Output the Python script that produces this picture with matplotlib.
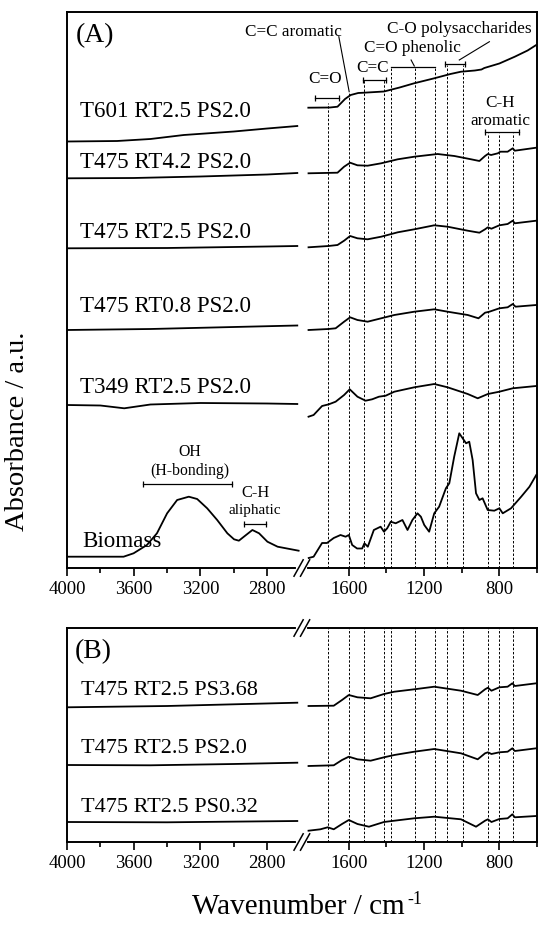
import numpy as np
import matplotlib.pyplot as plt

plt.rcParams['font.family'] = 'Liberation Serif'

# ---- data (wavenumber in cm-1, absorbance in a.u.) ----
# panel A
t601_lw = [4000, 3700, 3500, 3300, 3000, 2800, 2620]
t601_la = [426.5, 427, 429, 433, 436.5, 439.5, 442]
t601_rw = [1815, 1700, 1660, 1620, 1590, 1550, 1519, 1413, 1330, 1253, 1146,
           1060, 1004, 930, 895, 880, 800, 718, 650, 604]
t601_ra = [460.3, 460.5, 461.3, 469, 473, 475, 475.3, 476.5, 480.5, 484.7, 489.7,
           494, 496.3, 497.5, 498.5, 500, 504.5, 511.3, 517.5, 523]

t475rt42_lw = [4000, 3600, 3200, 2800, 2620]
t475rt42_la = [389.7, 390, 391.5, 393.5, 395]
t475rt42_rw = [1814, 1660, 1625, 1593, 1554, 1500, 1428, 1340, 1252, 1128, 1039,
               950, 906, 876, 861, 844, 808, 795, 756, 729, 718, 604]
t475rt42_ra = [394.7, 395.3, 401.3, 405.3, 402.7, 402.3, 404.7, 408.7, 411.3, 414, 412,
               408.7, 407, 412, 414, 413, 414.7, 416.3, 416.3, 419.7, 417.3, 420.3]

t475rt25_lw = [4000, 3400, 2800, 2620]
t475rt25_la = [319.7, 320, 321.5, 322]
t475rt25_rw = [1814, 1708, 1660, 1625, 1593, 1554, 1500, 1428, 1340, 1252, 1146,
               1075, 968, 906, 876, 861, 842, 800, 756, 729, 718, 604]
t475rt25_ra = [320.7, 322, 323, 327.3, 332, 329.7, 328.7, 331.3, 335.7, 338.7, 342.7,
               341.3, 337.3, 335.3, 338.7, 340.7, 339.3, 342.7, 344, 347.3, 344.7, 347.3]

t475rt08_lw = [4000, 3500, 3000, 2620]
t475rt08_la = [238, 239, 241, 242.5]
t475rt08_rw = [1814, 1708, 1670, 1625, 1593, 1554, 1500, 1428, 1358, 1252, 1146,
               1075, 968, 911, 876, 853, 800, 756, 729, 714, 604]
t475rt08_ra = [238, 239, 239.7, 246.3, 250.7, 248, 246.3, 249.7, 253, 256.3, 258.7,
               256.3, 253, 249.7, 255.3, 256.3, 259.7, 260.7, 264, 261.3, 263]

t349_lw = [4000, 3800, 3657, 3500, 3200, 2800, 2620]
t349_la = [163, 162.5, 159.7, 163.5, 165, 164.5, 164]
t349_rw = [1814, 1787, 1742, 1706, 1670, 1625, 1595, 1554, 1511, 1476, 1440, 1404,
           1358, 1252, 1146, 1075, 968, 915, 861, 800, 729, 604]
t349_ra = [151.3, 153, 162, 163.7, 166.3, 173, 178.7, 171.3, 167.3, 168.7, 171.3, 172.3,
           176.3, 180.7, 184, 180.7, 174, 169.7, 174, 176.3, 179.7, 182]

bio_lw = [4000, 3661, 3601, 3521, 3461, 3400, 3340, 3270, 3220, 3160, 3100, 3039,
          2999, 2970, 2940, 2889, 2849, 2799, 2738, 2612]
bio_la = [11.3, 11.3, 14.7, 23, 34.7, 54.7, 68, 71.3, 69, 59.7, 48, 34.7,
          28.7, 27.3, 31.3, 38, 34.7, 26.3, 21.3, 17.3]
bio_rw = [1813, 1787, 1742, 1716, 1680, 1644, 1617, 1600, 1582, 1556, 1529, 1517,
          1499, 1467, 1431, 1413, 1396, 1377, 1351, 1315, 1288, 1262, 1235, 1217,
          1199, 1173, 1146, 1120, 1084, 1066, 1040, 1013, 995, 977, 960, 942, 924,
          906, 889, 862, 827, 800, 782, 738, 684, 640, 604]
bio_ra = [10, 11.3, 25, 25, 30, 33, 31.3, 33, 23, 19.5, 19.5, 24.7,
          21.3, 38, 41.3, 36.3, 39.7, 46.3, 44.7, 48, 38, 48, 54.7, 51.3,
          43, 36.3, 54.7, 61.3, 79.7, 84.7, 111.3, 134.7, 129.7, 124.7, 126.3, 108, 74.7,
          68, 69.7, 58, 57.3, 59.7, 54.7, 59.7, 71.3, 81.3, 93]

# panel B
ps368_lw = [4000, 3400, 2620]
ps368_la = [134.7, 136, 139.3]
ps368_rw = [1814, 1680, 1636, 1600, 1554, 1484, 1413, 1358, 1252, 1146, 1004,
            915, 876, 861, 842, 800, 756, 731, 718, 604]
ps368_ra = [136, 136.3, 142, 147, 144.7, 143.7, 148, 150.3, 152.7, 155.3, 151.3,
            147, 152.7, 154.3, 151.3, 154.7, 155.3, 158.7, 156, 158.7]

ps20_lw = [4000, 3500, 3000, 2620]
ps20_la = [77, 76.7, 78, 79.3]
ps20_rw = [1814, 1680, 1636, 1600, 1554, 1484, 1413, 1358, 1252, 1146, 1004,
           915, 876, 861, 842, 800, 756, 731, 718, 604]
ps20_ra = [76, 76.7, 82, 85.3, 82.7, 81.3, 84.7, 87, 90.3, 93, 88.7,
           82.7, 88.7, 89.7, 88, 89.7, 90.3, 93.7, 91, 93.7]

ps032_lw = [4000, 3400, 2620]
ps032_la = [20, 19.7, 21]
ps032_rw = [1814, 1751, 1712, 1680, 1636, 1600, 1554, 1493, 1413, 1358, 1252, 1146,
            1004, 924, 876, 861, 842, 800, 756, 731, 718, 604]
ps032_ra = [11.3, 12.7, 14.7, 12.7, 18, 22, 18, 15.3, 20, 21.3, 23.7, 25.3,
            22.7, 15.3, 21.3, 22.7, 20, 23, 23.7, 27.7, 24.7, 26]

labels_a = ['T601 RT2.5 PS2.0', 'T475 RT4.2 PS2.0', 'T475 RT2.5 PS2.0',
            'T475 RT0.8 PS2.0', 'T349 RT2.5 PS2.0', 'Biomass']
labels_b = ['T475 RT2.5 PS3.68', 'T475 RT2.5 PS2.0', 'T475 RT2.5 PS0.32']

# band positions (dashed guide lines)
band_w = [1710, 1600, 1520, 1415, 1375, 1250, 1140, 1080, 995, 862, 800, 730]
band_top_a = [465, 476, 488, 488, 501, 501, 501, 503, 503, 435, 435, 435]

major_ticks = [4000, 3600, 3200, 2800, 1600, 1200, 800]
minor_ticks = [3800, 3400, 3000, 1400, 1000, 600]

# ---- broken wavenumber axis: 4000-2600 | 1840-600 ----
seg_w = [600, 1840, 2600, 4000]
seg_u = [0, 232.5, 235.5, 468.25]


def fwd(w):
    return np.interp(w, seg_w, seg_u)


def inv(u):
    return np.interp(u, seg_u, seg_w)


def setup_axis(ax, ymax):
    ax.set_xscale('function', functions=(fwd, inv))
    ax.set_xlim(4000, 600)
    ax.set_ylim(0, ymax)
    ax.set_yticks([])
    ax.set_xticks(major_ticks, labels=[str(t) for t in major_ticks])
    ax.set_xticks(minor_ticks, minor=True)
    ax.tick_params(axis='x', which='major', direction='out', length=6,
                   width=1.2, labelsize=13.5, pad=3)
    ax.tick_params(axis='x', which='minor', direction='out', length=3.5, width=1.2)
    for s in ax.spines.values():
        s.set_linewidth(1.4)


def draw_break(ax, h_px, y0):
    dy = 8.2 / h_px
    for x0 in (0.483, 0.4968):
        ax.plot([x0, x0 + 0.0195], [y0 - dy, y0 + dy], color='k', lw=1.1,
                transform=ax.transAxes, clip_on=False, zorder=6)
    ax.plot([0.4925, 0.5065], [y0, y0], color='white', lw=3,
            transform=ax.transAxes, clip_on=False, zorder=5)


def bracket(ax, w1, w2, y, caps=True):
    ax.plot([w1, w2], [y, y], color='k', lw=0.9)
    if caps:
        ax.plot([w1, w2], [y, y], ls='none', marker='|', ms=5, mew=0.9, color='k')


fig = plt.figure(figsize=(5.5, 9.26), dpi=100)
ax_a = fig.add_axes([67 / 550, 1 - 568 / 926, 470 / 550, 556 / 926])
ax_b = fig.add_axes([67 / 550, 1 - 842 / 926, 470 / 550, 214 / 926])

# ---------------- panel A ----------------
setup_axis(ax_a, 556)
spectra_a = [(t601_lw, t601_la, t601_rw, t601_ra),
             (t475rt42_lw, t475rt42_la, t475rt42_rw, t475rt42_ra),
             (t475rt25_lw, t475rt25_la, t475rt25_rw, t475rt25_ra),
             (t475rt08_lw, t475rt08_la, t475rt08_rw, t475rt08_ra),
             (t349_lw, t349_la, t349_rw, t349_ra),
             (bio_lw, bio_la, bio_rw, bio_ra)]
for lw_, la_, rw_, ra_ in spectra_a:
    ax_a.plot(lw_, la_, color='k', lw=1.3)
    ax_a.plot(rw_, ra_, color='k', lw=1.3)

ax_a.vlines(band_w, 0, band_top_a, colors='k', linestyles=(0, (2.5, 1.8)), lw=0.7)

label_y_a = [0.8117, 0.719, 0.593, 0.461, 0.314, 0.0383]
for lab, yy in zip(labels_a, label_y_a):
    xx = 0.032 if lab == 'Biomass' else 0.028
    ax_a.text(xx, yy, lab, transform=ax_a.transAxes, fontsize=16.6, va='baseline')

ax_a.text(0.019, 0.957, '(A)', transform=ax_a.transAxes, fontsize=20, va='center')

# band annotations
bracket(ax_a, 1780, 1650, 470)
bracket(ax_a, 1522, 1403, 488)
bracket(ax_a, 1375, 1140, 501, caps=False)
bracket(ax_a, 1088, 982, 504.5)
bracket(ax_a, 878, 694, 436.3)
bracket(ax_a, 3545, 3010, 84)
bracket(ax_a, 2940, 2809, 43.7)

ax_a.plot([1653, 1598], [531.3, 476.3], color='k', lw=0.8)   # C=C aromatic
ax_a.plot([1269, 1252], [508, 502], color='k', lw=0.8)       # C=O phenolic
ax_a.plot([853, 1013], [526.3, 508], color='k', lw=0.8)      # C-O polysaccharides

notes_a = [('C=C aromatic', 0.481, 0.964, 12.3),
           ('C=O', 0.549, 0.880, 12.3),
           ('C=C', 0.651, 0.900, 12.3),
           ('C=O phenolic', 0.736, 0.936, 12.3),
           ('C-O polysaccharides', 0.835, 0.969, 12.4),
           ('C-H', 0.921, 0.837, 12.3),
           ('aromatic', 0.922, 0.804, 12.3),
           ('OH', 0.262, 0.209, 11.3),
           ('(H-bonding)', 0.262, 0.175, 11.3),
           ('C-H', 0.400, 0.135, 11.8),
           ('aliphatic', 0.400, 0.103, 11)]
for txt, xx, yy, fs in notes_a:
    ax_a.text(xx, yy, txt, transform=ax_a.transAxes, fontsize=fs,
              ha='center', va='center')

draw_break(ax_a, 556, 0)

# ---------------- panel B ----------------
setup_axis(ax_b, 214)
spectra_b = [(ps368_lw, ps368_la, ps368_rw, ps368_ra),
             (ps20_lw, ps20_la, ps20_rw, ps20_ra),
             (ps032_lw, ps032_la, ps032_rw, ps032_ra)]
for lw_, la_, rw_, ra_ in spectra_b:
    ax_b.plot(lw_, la_, color='k', lw=1.3)
    ax_b.plot(rw_, ra_, color='k', lw=1.3)

ax_b.vlines(band_w, 0, 214, colors='k', linestyles=(0, (2.5, 1.8)), lw=0.7)

label_y_b = [0.687, 0.4145, 0.1416]
for lab, yy in zip(labels_b, label_y_b):
    ax_b.text(0.030, yy, lab, transform=ax_b.transAxes, fontsize=16, va='baseline')
ax_b.text(0.017, 0.888, '(B)', transform=ax_b.transAxes, fontsize=20, va='center')

draw_break(ax_b, 214, 0)
draw_break(ax_b, 214, 1)

# axis titles
fig.text(0.0327, 0.5346, 'Absorbance / a.u.', rotation=90, fontsize=20.5,
         ha='center', va='center')
fig.text(0.7364, 0.013, 'Wavenumber / cm', fontsize=21, ha='right', va='baseline')
fig.text(0.740, 0.0235, '-1', fontsize=13, ha='left', va='baseline')

fig.savefig('out.png', dpi=100)
